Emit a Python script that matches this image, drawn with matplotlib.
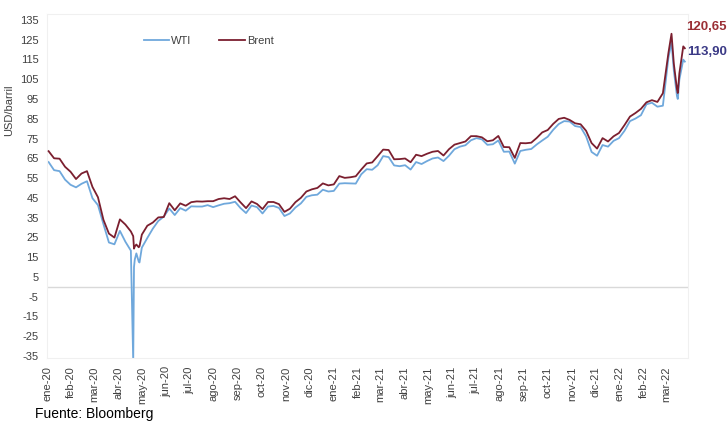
import matplotlib
matplotlib.use("Agg")
import matplotlib.pyplot as plt
import pandas as pd
import numpy as np

plt.rcParams['font.family'] = ['Liberation Sans', 'DejaVu Sans']
plt.rcParams['axes.unicode_minus'] = False

# Weekly (Friday) closes, USD/barrel, Jan-2020 .. Mar-2022
week_start = "2020-01-03"
brent_weekly = [
    68.6, 65.0, 64.8, 60.7, 58.2, 54.5, 57.3, 58.5, 50.5, 45.3, 33.9, 26.9, 24.9,
    34.1, 31.5, 28.0, 21.4, 26.4, 30.9, 32.5, 35.1, 35.3, 42.3, 38.7, 42.2, 41.0,
    42.8, 43.2, 43.1, 43.3, 43.3, 44.4, 44.8, 44.4, 45.8, 42.7, 39.8, 43.2, 41.9,
    39.3, 42.9, 42.9, 41.8, 37.9, 39.5, 42.8, 45.0, 48.2, 49.3, 50.0, 52.3, 51.3,
    51.8,
    56.0, 55.1, 55.4, 55.9, 59.3, 62.4, 62.9, 66.1, 69.4, 69.2, 64.5, 64.6, 64.9,
    63.0, 66.8, 66.1, 67.3, 68.3, 68.7, 66.4, 69.6, 71.9, 72.7, 73.5, 76.2, 76.2,
    75.6, 73.6, 74.1, 76.3, 70.7, 70.6, 65.2, 72.7, 72.6, 72.9, 75.3, 78.1, 79.3,
    82.4, 84.9, 85.5, 84.4, 82.7, 82.2, 78.9, 72.7, 69.9, 75.2, 73.5, 76.1, 77.8,
    81.8, 86.1, 87.9, 90.0, 93.3, 94.4, 93.5, 97.9, 118.1, 112.7, 107.9, 120.65,
]
wti_weekly = [
    63.1, 59.0, 58.5, 54.2, 51.6, 50.3, 52.1, 53.4, 44.8, 41.3, 31.7, 22.4, 21.5,
    28.3, 22.8, 18.3, 16.9, 19.8, 24.7, 29.4, 33.3, 35.5, 39.6, 36.3, 39.8, 38.5,
    40.7, 40.6, 40.6, 41.3, 40.3, 41.2, 42.0, 42.3, 43.0, 39.8, 37.3, 41.1, 40.3,
    37.1, 40.6, 40.9, 39.9, 35.8, 37.1, 40.1, 42.2, 45.5, 46.3, 46.6, 49.1, 48.2,
    48.5,
    52.2, 52.4, 52.3, 52.2, 56.9, 59.5, 59.2, 61.5, 66.1, 65.6, 61.4, 61.0, 61.5,
    59.3, 63.1, 62.1, 63.6, 64.9, 65.4, 63.6, 66.3, 69.6, 70.9, 71.6, 74.1, 75.2,
    74.6, 71.8, 72.1, 74.0, 68.3, 68.4, 62.3, 68.7, 69.3, 69.7, 72.0, 74.0, 75.9,
    79.4, 82.3, 83.8, 83.6, 81.3, 80.8, 76.1, 68.2, 66.3, 71.7, 70.9, 73.8, 75.2,
    78.9, 83.8, 85.1, 86.8, 92.3, 93.1, 91.1, 91.6, 115.7, 109.3, 104.7, 113.90,
]

# Extra daily closes around key events
event_dates = ["2020-04-20", "2020-04-21", "2020-04-22", "2020-04-27", "2020-04-28",
               "2022-03-08", "2022-03-15", "2022-03-16", "2022-03-23"]
brent_event = [25.6, 19.3, 20.4, 20.0, 20.5, 128.0, 99.9, 98.0, 121.6]
wti_event = [-37.6, 10.0, 13.8, 12.8, 12.3, 123.7, 96.4, 95.0, 114.9]

month_labels = ["ene-20", "feb-20", "mar-20", "abr-20", "may-20", "jun-20", "jul-20",
                "ago-20", "sep-20", "oct-20", "nov-20", "dic-20", "ene-21", "feb-21",
                "mar-21", "abr-21", "may-21", "jun-21", "jul-21", "ago-21", "sep-21",
                "oct-21", "nov-21", "dic-21", "ene-22", "feb-22", "mar-22"]

weekly_dates = pd.date_range(week_start, periods=len(brent_weekly), freq="W-FRI")
df = pd.concat([
    pd.DataFrame({"Brent": brent_weekly, "WTI": wti_weekly}, index=weekly_dates),
    pd.DataFrame({"Brent": brent_event, "WTI": wti_event}, index=pd.to_datetime(event_dates)),
]).sort_index()

fig = plt.figure(figsize=(7.28, 4.23), dpi=100)
ax = fig.add_axes([0.0646, 0.1537, 0.8804, 0.8133])

ax.axhline(0, color="#d9d9d9", lw=1.0, zorder=1)
ax.plot(df.index, df["WTI"], color="#6fa8dc", lw=1.3, label="WTI", zorder=2)
ax.plot(df.index, df["Brent"], color="#7b1f2f", lw=1.3, label="Brent", zorder=3)

ax.set_ylim(-36, 138)
ax.set_xlim(pd.Timestamp("2020-01-01"), pd.Timestamp("2022-03-29"))
ax.set_yticks(np.arange(-35, 136, 10))
ticks = pd.date_range("2020-01-01", periods=len(month_labels), freq="MS")
ax.set_xticks(ticks)
ax.set_xticklabels(month_labels, rotation=90)
ax.tick_params(axis="both", length=0, labelsize=8, colors="#404040")
ax.tick_params(axis="x", pad=6)
ax.tick_params(axis="y", pad=6)
for s in ax.spines.values():
    s.set_color("#f0f0f0")
    s.set_linewidth(0.8)

ax.set_ylabel("USD/barril", fontsize=8, color="#404040")
ax.yaxis.set_label_coords(-0.052, 0.72)

ax.legend(loc="upper left", bbox_to_anchor=(0.135, 0.965), ncol=2, frameon=False,
          fontsize=8, handlelength=2.3, handletextpad=0.2, columnspacing=2.5,
          labelcolor="#404040")

fig.text(0.998, 0.937, "120,65", color="#9b2f35", fontsize=9.5, fontweight="bold",
         ha="right", va="center")
fig.text(0.998, 0.877, "113,90", color="#3b3a86", fontsize=9.5, fontweight="bold",
         ha="right", va="center")

fig.text(0.048, 0.004, "Fuente: Bloomberg", fontsize=10, color="#000000",
         ha="left", va="bottom")

fig.savefig("out.png", dpi=100)
